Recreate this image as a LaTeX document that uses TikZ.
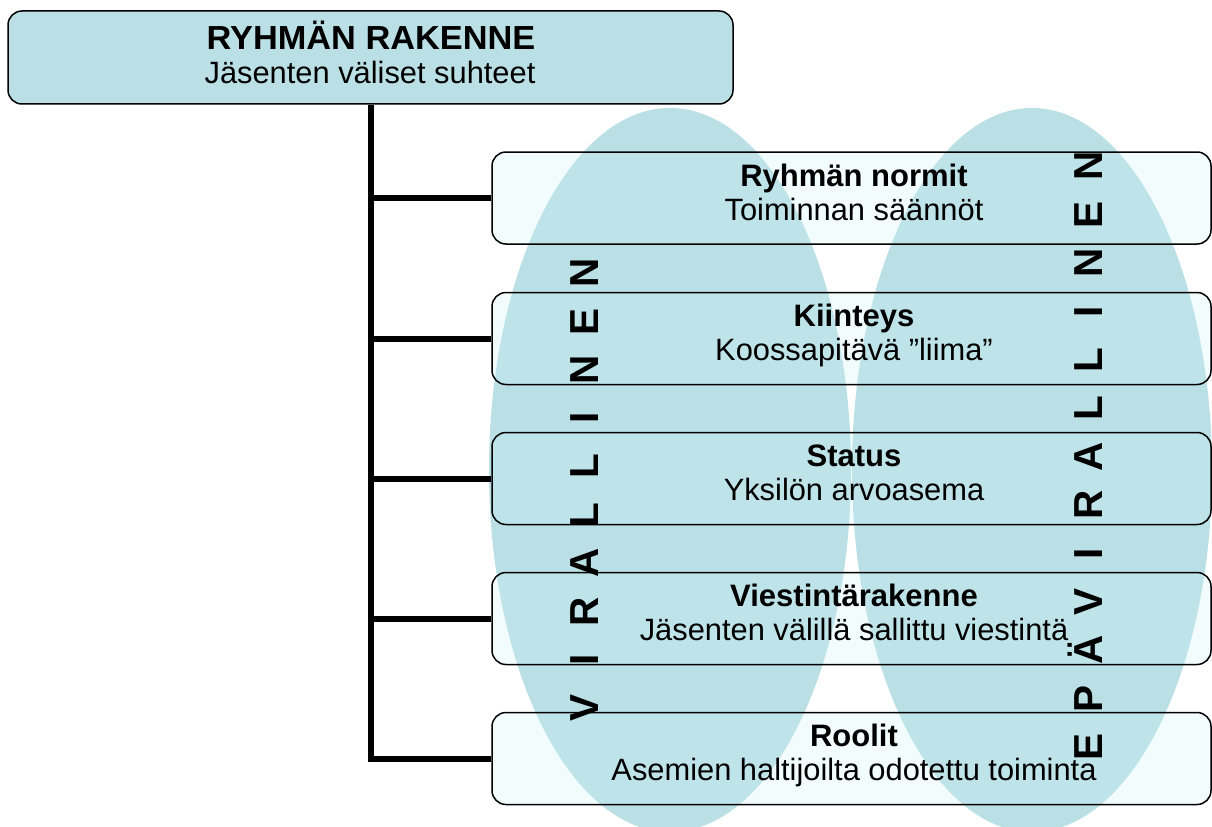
\documentclass[tikz,border=0pt]{standalone}
\usepackage{fontspec}
\setmainfont{Liberation Sans}
\definecolor{ellc}{RGB}{186,224,229}
\definecolor{topc}{RGB}{186,224,229}
\definecolor{boxc}{RGB}{203,243,247}
\begin{document}
\begin{tikzpicture}[x=0.6pt,y=-0.6pt,
  topbox/.style={draw=black, line width=0.9pt, rounded corners=8.4pt, fill=topc,
    minimum width=435pt, minimum height=55.8pt, inner sep=0pt},
  itembox/.style={draw=black, line width=0.9pt, rounded corners=8.4pt,
    fill=boxc, fill opacity=0.25, draw opacity=1,
    minimum width=431.4pt, minimum height=55.2pt, inner sep=0pt},
  bigttl/.style={font=\fontsize{20}{22}\selectfont\bfseries\addfontfeature{FakeStretch=1.03}, anchor=base, inner sep=0pt},
  ttl/.style={font=\fontsize{18.6}{20}\selectfont\bfseries, anchor=base, inner sep=0pt},
  sub/.style={font=\fontsize{18.5}{20}\selectfont, anchor=base, inner sep=0pt},
  vlet/.style={font=\fontsize{24.3}{26}\selectfont\bfseries, rotate=90, anchor=base, inner sep=0pt},
  conn/.style={line width=3.6pt, line join=miter}]
\useasboundingbox (0,0) rectangle (1212,827);
% ellipses
\fill[ellc] (670,470) ellipse [x radius=181, y radius=362];
\fill[ellc] (1032,470) ellipse [x radius=180, y radius=362];
% top box
\node[topbox] (top) at (370.5,57.5) {};
\node[bigttl] (topt) at (371,49.5) {RYHMÄN RAKENNE};
\node[sub] (tops) at (370,84) {Jäsenten väliset suhteet};
% item boxes
\node[itembox] (b1) at (851.5,198) {};
\node[itembox] (b2) at (851.5,338.5) {};
\node[itembox] (b3) at (851.5,478.5) {};
\node[itembox] (b4) at (851.5,618.5) {};
\node[itembox] (b5) at (851.5,758.5) {};
% connectors
\draw[conn] (top.south) -- (top.south |- b5.west) -- (b5.west);
\foreach \i in {1,2,3,4}{\draw[conn] (top.south |- b\i.west) -- (b\i.west);}
% box texts
\node[ttl] (t1) at (854,186) {Ryhmän normit};
\node[sub] (s1) at (854,220) {Toiminnan säännöt};
\node[ttl] (t2) at (854,326.5) {Kiinteys};
\node[sub] (s2) at (854,360.5) {Koossapitävä ”liima”};
\node[ttl] (t3) at (854,466.5) {Status};
\node[sub] (s3) at (854,500.5) {Yksilön arvoasema};
\node[ttl] (t4) at (854,606.5) {Viestintärakenne};
\node[sub] (s4) at (854,640.5) {Jäsenten välillä sallittu viestintä};
\node[ttl] (t5) at (854,746.5) {Roolit};
\node[sub] (s5) at (854,780.5) {Asemien haltijoilta odotettu toiminta};
% vertical letters
\foreach \l [count=\k from 0] in {V,I,R,A,L,L,I,N,E,N}{
  \node[vlet] (vl\k) at (598,708-48.3*\k) {\l};}
\foreach \l [count=\k from 0] in {E,P,Ä,V,I,R,A,L,L,I,N,E,N}{
  \node[vlet] (vr\k) at (1102,747-48.4*\k) {\l};}
\end{tikzpicture}
\end{document}
